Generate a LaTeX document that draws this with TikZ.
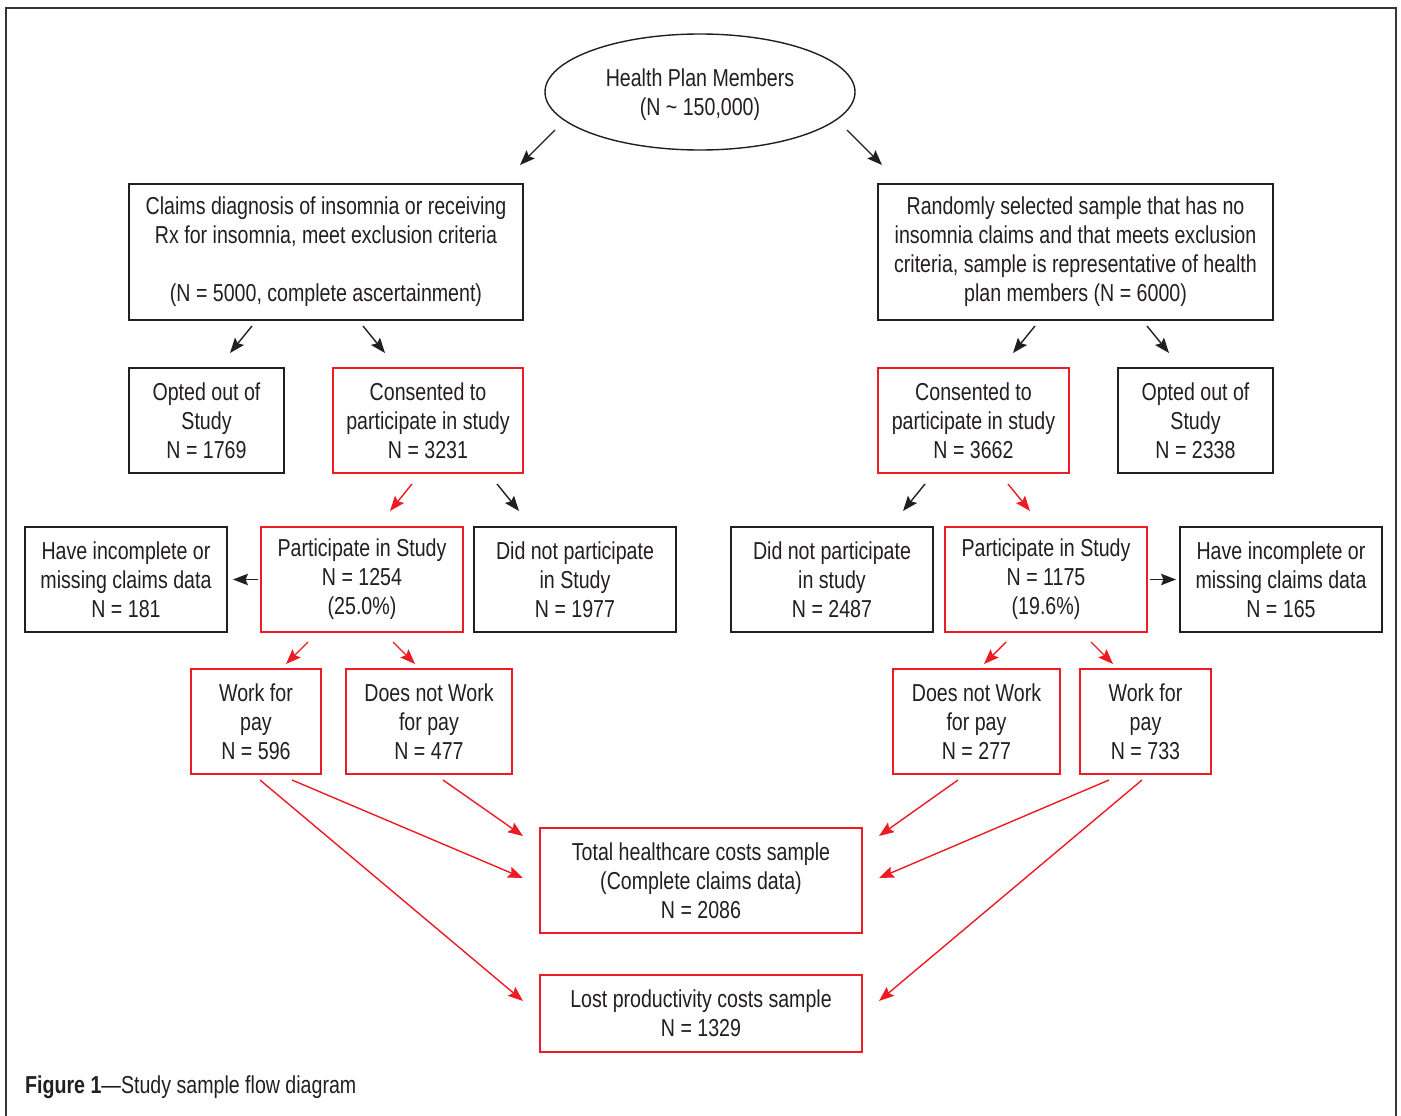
\documentclass[tikz,border=0pt]{standalone}
\usepackage{fontspec}
\setmainfont{Liberation Sans}[FakeStretch=0.8]
\usetikzlibrary{shapes.geometric,arrows.meta}
\definecolor{ink}{HTML}{231F20}
\definecolor{rd}{HTML}{ED1C24}
\begin{document}
\begin{tikzpicture}[x=1pt,y=-1pt,
  every node/.style={font=\fontsize{24.5pt}{29pt}\selectfont, text=ink, align=center, inner sep=0pt},
  bbox/.style={draw=ink, line width=1.4pt, rectangle, minimum height=105pt},
  rbox/.style={draw=rd, line width=1.4pt, rectangle, minimum height=105pt},
  arr/.style={draw=ink, line width=1.4pt, -{Stealth[length=15pt,width=11.5pt,inset=2.5pt]}},
  rarr/.style={draw=rd, line width=1.4pt, -{Stealth[length=15pt,width=11.5pt,inset=2.5pt]}}]
\useasboundingbox (0,0) rectangle (1401,1116);
\fill[white] (0,0) rectangle (1401,1116);
\draw[ink!90, line width=2pt] (6,1117) -- (6,8) -- (1396,8) -- (1396,1117);

% top
\node[ellipse, draw=ink, line width=1.4pt, minimum width=310pt, minimum height=116pt] (ell) at (700,92)
  {\raisebox{-3pt}[\height][\depth]{\begin{tabular}{@{}c@{}}Health Plan Members\\(N \textasciitilde{} 150,000)\end{tabular}}};
\node[bbox, minimum width=394pt, minimum height=136pt] (claims) at (326,252)
  {Claims diagnosis of insomnia or receiving\\Rx for insomnia, meet exclusion criteria\\~\\(N = 5000, complete ascertainment)};
\node[bbox, minimum width=395pt, minimum height=136pt] (rand) at (1075.5,252)
  {Randomly selected sample that has no\\insomnia claims and that meets exclusion\\criteria, sample is representative of health\\plan members (N = 6000)};

% row 2
\node[bbox, minimum width=155pt] (optL) at (206.5,420.5) {Opted out of\\Study\\N = 1769};
\node[rbox, minimum width=190pt] (conL) at (428,420.5) {Consented to\\participate in study\\N = 3231};
\node[rbox, minimum width=191pt] (conR) at (973.5,420.5) {Consented to\\participate in study\\N = 3662};
\node[bbox, minimum width=155pt] (optR) at (1195.5,420.5) {Opted out of\\Study\\N = 2338};

% row 3
\node[bbox, minimum width=202pt] (incL) at (126,579.5) {Have incomplete or\\missing claims data\\N = 181};
\node[rbox, minimum width=202pt] (partL) at (362,579.5) {Participate in Study\\N = 1254\\(25.0\%)};
\node[bbox, minimum width=202pt] (didL) at (575,579.5) {Did not participate\\in Study\\N = 1977};
\node[bbox, minimum width=202pt] (didR) at (832,579.5) {Did not participate\\in study\\N = 2487};
\node[rbox, minimum width=202pt] (partR) at (1046,579.5) {Participate in Study\\N = 1175\\(19.6\%)};
\node[bbox, minimum width=202pt] (incR) at (1281,579.5) {Have incomplete or\\missing claims data\\N = 165};

% row 4
\node[rbox, minimum width=130pt] (workL) at (256,721.5) {Work for\\pay\\N = 596};
\node[rbox, minimum width=166pt] (notL) at (429,721.5) {Does not Work\\for pay\\N = 477};
\node[rbox, minimum width=167pt] (notR) at (976.5,721.5) {Does not Work\\for pay\\N = 277};
\node[rbox, minimum width=131pt] (workR) at (1145.5,721.5) {Work for\\pay\\N = 733};

% bottom
\node[rbox, minimum width=322pt] (total) at (701,880.5) {Total healthcare costs sample\\(Complete claims data)\\N = 2086};
\node[rbox, minimum width=322pt, minimum height=77pt] (lost) at (701,1013.5) {Lost productivity costs sample\\N = 1329};

% caption
\node[anchor=base west] (cap) at (25,1093) {\textbf{Figure 1}---Study sample flow diagram};

% arrows
\draw[arr] (555,130) -- (520,165);
\draw[arr] (847,130) -- (882,165);
\draw[arr] (252,326) -- (230,353);
\draw[arr] (363,326) -- (385,353);
\draw[arr] (1035,326) -- (1013,353);
\draw[arr] (1147,326) -- (1169,353);
\draw[rarr] (412,484) -- (390,511);
\draw[arr] (497,484) -- (519,511);
\draw[arr] (925,484) -- (903,511);
\draw[rarr] (1008,484) -- (1030,511);
\draw[arr] (partL.west) ++(-2,0) -- (233,579.5);
\draw[arr] (partR.east) ++(2,0) -- (1176,579.5);
\draw[rarr] (308,642) -- (286,664);
\draw[rarr] (393,642) -- (415,664);
\draw[rarr] (1006,642) -- (984,664);
\draw[rarr] (1091,642) -- (1113,664);
\draw[rarr] (443,780) -- (523,836);
\draw[rarr] (292,780) -- (523,878);
\draw[rarr] (260,780) -- (523,1001);
\draw[rarr] (958,780) -- (879,836);
\draw[rarr] (1109,780) -- (879,878);
\draw[rarr] (1142,780) -- (879,1001);
\end{tikzpicture}
\end{document}
